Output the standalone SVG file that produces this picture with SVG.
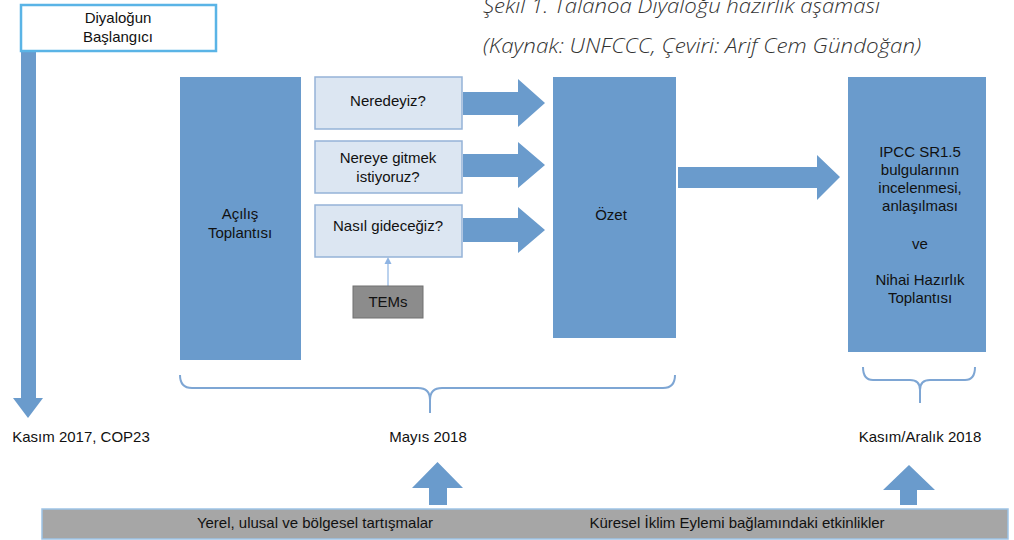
<svg xmlns="http://www.w3.org/2000/svg" width="1014" height="540" viewBox="0 0 1014 540">
<style>
.t{font-family:"Liberation Sans",Arial,sans-serif;font-size:15px;fill:#111;text-anchor:middle}
.blk{fill:#6a9bcc}
.q{fill:#dce6f2;stroke:#95b3d7;stroke-width:1.5}
.br{fill:none;stroke:#7ea6d4;stroke-width:2}
.cap{font-family:"Open Sans",sans-serif;font-style:italic;font-weight:300;font-size:21px;fill:#333}
</style>
<rect width="1014" height="540" fill="#fff"/>
<text class="cap" x="483" y="13" textLength="397" lengthAdjust="spacingAndGlyphs">Şekil 1. Talanoa Diyaloğu hazırlık aşaması</text>
<text class="cap" x="483" y="53" textLength="438" lengthAdjust="spacingAndGlyphs">(Kaynak: UNFCCC, Çeviri: Arif Cem Gündoğan)</text>
<g id="connectors">
<polygon class="blk" points="21,51 36,51 36,398 43,398 28,418 13,398 21,398"/>
<polygon class="blk" points="463,92 518,92 518,79 545,103 518,127 518,115 463,115"/>
<polygon class="blk" points="463,154 518,154 518,142 545,165 518,188 518,177 463,177"/>
<polygon class="blk" points="463,218 518,218 518,207 545,230 518,253 518,242 463,242"/>
<polygon class="blk" points="678,167 817,167 817,155 840,177 817,200 817,188 678,188"/>
<line x1="388" y1="286" x2="388" y2="263" stroke="#8eb4e3" stroke-width="1.2"/>
<polygon points="388,257 384.5,264 391.5,264" fill="#8eb4e3"/>
<path class="br" d="M180,375 Q180,388 192,388 L418,388 Q430,388 430,400 L430,413 M430,400 Q430,388 442,388 L663,388 Q675,388 675,375"/>
<path class="br" d="M863,367 Q863,380 873,380 L910,380 Q920,380 920,390 L920,403 M920,390 Q920,380 930,380 L965,380 Q975,380 975,367"/>
<polygon class="blk" points="429,505 429,488 412,488 437.5,462 463,488 447,488 447,505"/>
<polygon class="blk" points="900,505 900,490 883,490 909,465 935,490 917,490 917,505"/>
</g>
<g id="start">
<rect x="21" y="5" width="195" height="46" fill="#fff" stroke="#5ab4e6" stroke-width="2.5"/>
<text class="t" x="118" y="23">Diyaloğun</text>
<text class="t" x="118" y="42">Başlangıcı</text>
</g>
<g id="opening">
<rect class="blk" x="180" y="77" width="121" height="283"/>
<text class="t" x="240" y="219">Açılış</text>
<text class="t" x="240" y="238">Toplantısı</text>
</g>
<g id="q1">
<rect class="q" x="315" y="77" width="147" height="52"/>
<text class="t" x="388" y="106">Neredeyiz?</text>
</g>
<g id="q2">
<rect class="q" x="315" y="141" width="147" height="52"/>
<text class="t" x="388" y="163">Nereye gitmek</text>
<text class="t" x="388" y="182">istiyoruz?</text>
</g>
<g id="q3">
<rect class="q" x="315" y="205" width="147" height="52"/>
<text class="t" x="388" y="231">Nasıl gideceğiz?</text>
</g>
<g id="tems">
<rect x="353" y="286" width="70" height="32" fill="#8c8c8c" stroke="#707070" stroke-width="1"/>
<text class="t" x="388" y="307">TEMs</text>
</g>
<g id="summary">
<rect class="blk" x="553" y="77" width="123" height="261"/>
<text class="t" x="611" y="220">Özet</text>
</g>
<g id="final">
<rect class="blk" x="848" y="77" width="138" height="275"/>
<text class="t" x="920" y="157">IPCC SR1.5</text>
<text class="t" x="920" y="175">bulgularının</text>
<text class="t" x="920" y="193">incelenmesi,</text>
<text class="t" x="920" y="211">anlaşılması</text>
<text class="t" x="920" y="249">ve</text>
<text class="t" x="920" y="285">Nihai Hazırlık</text>
<text class="t" x="920" y="303">Toplantısı</text>
</g>
<g id="labels">
<text class="t" x="81" y="442">Kasım 2017, COP23</text>
<text class="t" x="428" y="442">Mayıs 2018</text>
<text class="t" x="920" y="442">Kasım/Aralık 2018</text>
</g>
<g id="bottom">
<rect x="42" y="509" width="966" height="30" fill="#a6a6a6" stroke="#9dc3e6" stroke-width="1.5"/>
<text class="t" x="315" y="528">Yerel, ulusal ve bölgesel tartışmalar</text>
<text class="t" x="737" y="528">Küresel İklim Eylemi bağlamındaki etkinlikler</text>
</g>
</svg>
